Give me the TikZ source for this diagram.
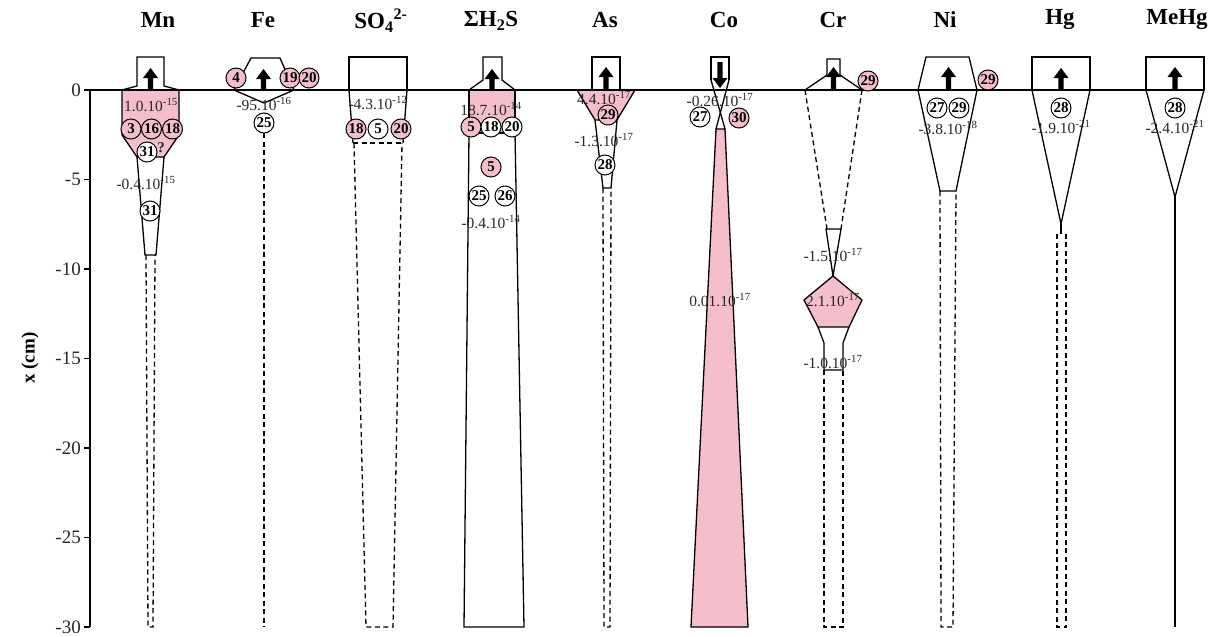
\documentclass[tikz,border=0pt]{standalone}
\usepackage{fontspec}
\setmainfont{Liberation Serif}
\definecolor{pk}{RGB}{245,190,203}
\definecolor{tx}{RGB}{40,40,40}
\newcommand\upa[2]{\fill (#1-2.6,90) -- (#1-2.6,#2+10) -- (#1-7.5,#2+10) -- (#1,#2) -- (#1+7.5,#2+10) -- (#1+2.6,#2+10) -- (#1+2.6,90) -- cycle;}
\tikzset{
  pc/.style={circle,draw,line width=1pt,fill=pk,inner sep=0pt,minimum size=20pt,font=\fontsize{15}{15}\selectfont\bfseries},
  wc/.style={pc,fill=white},
  val/.style={font=\fontsize{15.5}{15.5}\selectfont,text=tx,inner sep=0pt},
  hdr/.style={font=\fontsize{23}{23}\selectfont\bfseries,inner sep=0pt},
  tick/.style={font=\fontsize{19}{19}\selectfont,text=tx,inner sep=0pt,anchor=east},
  outl/.style={line width=1.3pt,line join=miter},
  dsh/.style={line width=1.3pt,dash pattern=on 5pt off 3.5pt},
}
\begin{document}
\begin{tikzpicture}[x=1pt,y=-1pt]
\useasboundingbox (0,0) rectangle (1224,637);
% axis
\draw[line width=1.4pt] (90,90) -- (90,627);
\foreach \v/\l in {0/0,5/-5,10/-10,15/-15,20/-20,25/-25,30/-30}{
  \draw[line width=1.3pt] (84,90+17.9*\v) -- (90,90+17.9*\v);
  \node[tick] at (81,90+17.9*\v) {\l};
}
\node[font=\fontsize{19}{19}\selectfont\bfseries,rotate=90] (ylab) at (30,358) {x (cm)};
% headers
\node[hdr] (hMn) at (158,20) {Mn};
\node[hdr] (hFe) at (263,20) {Fe};
\node[hdr] (hSO) at (381,21) {SO\textsubscript{4}\textsuperscript{2-}};
\node[hdr] (hHS) at (491,21) {ΣH\textsubscript{2}S};
\node[hdr] (hAs) at (605,20) {As};
\node[hdr] (hCo) at (724,20) {Co};
\node[hdr] (hCr) at (833,20) {Cr};
\node[hdr] (hNi) at (945,20) {Ni};
\node[hdr] (hHg) at (1060,20) {Hg};
\node[hdr] (hMeHg) at (1177,20) {MeHg};
% ---- Mn
\filldraw[outl,fill=pk] (122,90) -- (122,135) -- (137,157) -- (164,157) -- (179,135) -- (179,90);
\draw[outl] (122,90) -- (137,86) -- (137,57) -- (164,57) -- (164,86) -- (179,90);
\draw[outl] (137,157) -- (145,255) -- (156,255) -- (164,157);
\draw[dsh] (146,255) -- (148,627) -- (153,627) -- (155,255);
% ---- Fe
\draw[outl] (234,90) -- (251,58) -- (280,58) -- (294,90);
\draw[outl] (234,90) -- (264,103) -- (294,90);
\draw[dsh] (264,133) -- (264,627);
% ---- SO4
\draw[outl] (349,90) -- (349,57) -- (407,57) -- (407,90);
\draw[outl] (349,90) -- (353,143);
\draw[outl] (407,90) -- (403,143);
\draw[dsh] (353,143) -- (403,143);
\draw[dsh] (354,143) -- (366,627) -- (393,627) -- (402,143);
% ---- H2S
\filldraw[outl,fill=pk] (469,90) -- (469,133) -- (515,133) -- (515,90);
\draw[outl] (469,90) -- (483,80) -- (483,57) -- (502,57) -- (502,80) -- (515,90);
\draw[outl] (469,133) -- (464,627) -- (524,627) -- (515,133);
% ---- As
\filldraw[outl,fill=pk] (577,90) -- (595,120) -- (617,120) -- (635,90);
\draw[outl] (592,90) -- (592,57) -- (620,57) -- (620,90);
\draw[outl] (595,120) -- (603,188) -- (611,188) -- (617,120);
\draw[dsh] (603,188) -- (604,627) -- (610,627) -- (611,188);
% ---- Co
\filldraw[outl,fill=pk] (716,129) -- (691,627) -- (748,627) -- (725,129) -- cycle;
\draw[outl] (711,80) -- (711,57) -- (729,57) -- (729,80);
\draw[outl] (711,80) -- (725,129);
\draw[outl] (729,80) -- (716,129);
% ---- Cr
\draw[outl] (805,90) -- (827,75) -- (827,59) -- (840,59) -- (840,75) -- (862,90);
\draw[dsh] (805,90) -- (827,229);
\draw[dsh] (862,90) -- (841,229);
\draw[outl] (826,229) -- (841,229) -- (833,276) -- cycle;
\filldraw[outl,fill=pk] (833,276) -- (862,300) -- (849,327) -- (818,327) -- (804,300) -- cycle;
\draw[outl] (818,327) -- (824,343) -- (824,370) -- (843,370) -- (843,343) -- (849,327);
\draw[dsh] (824,370) -- (824,627) -- (843,627) -- (843,370);
% ---- Ni
\draw[outl] (918,90) -- (926,57) -- (969,57) -- (977,90);
\draw[outl] (918,90) -- (940,191) -- (956,191) -- (977,90);
\draw[dsh] (940,191) -- (941,627) -- (953,627) -- (956,191);
% ---- Hg
\draw[outl] (1032,90) -- (1032,57) -- (1090,57) -- (1090,90);
\draw[outl] (1032,90) -- (1061,224) -- (1090,90);
\draw[outl] (1061,224) -- (1061,234);
\draw[dsh] (1057,234) -- (1057,627) -- (1066,627) -- (1066,234);
% ---- MeHg
\draw[outl] (1146,90) -- (1146,57) -- (1204,57) -- (1204,90);
\draw[outl] (1146,90) -- (1175,197) -- (1204,90);
\draw[outl] (1175,197) -- (1175,627);
% surface
\draw[line width=1.6pt] (90,90) -- (1204,90);
% arrows
\upa{150.5}{68}
\upa{263.5}{69}
\upa{492}{69}
\upa{606}{67}
\upa{833.5}{67}
\upa{948.5}{67}
\upa{1061}{68}
\upa{1175}{67}
\fill (717.4,62) -- (717.4,78) -- (712.5,78) -- (720,88) -- (727.5,78) -- (722.6,78) -- (722.6,62) -- cycle;
% values
\node[val] (vMn1) at (151,105) {1.0.10\textsuperscript{-15}};
\node[val] (vMn2) at (146,183) {-0.4.10\textsuperscript{-15}};
\node[val] (vFe) at (264,104) {-95.10\textsuperscript{-16}};
\node[val] (vSO) at (378,103) {-4.3.10\textsuperscript{-12}};
\node[val] (vHS1) at (491,109) {18.7.10\textsuperscript{-14}};
\node[val] (vHS2) at (491,222) {-0.4.10\textsuperscript{-14}};
\node[val] (vAs1) at (604,98) {4.4.10\textsuperscript{-17}};
\node[val] (vAs2) at (604,140) {-1.3.10\textsuperscript{-17}};
\node[val] (vCo1) at (720,100) {-0.26.10\textsuperscript{-17}};
\node[val] (vCo2) at (720,300) {0.01.10\textsuperscript{-17}};
\node[val] (vCr1) at (833,255) {-1.5.10\textsuperscript{-17}};
\node[val] (vCr2) at (833,300) {2.1.10\textsuperscript{-17}};
\node[val] (vCr3) at (833,362) {-1.0.10\textsuperscript{-17}};
\node[val] (vNi) at (948,128) {-3.8.10\textsuperscript{-18}};
\node[val] (vHg) at (1061,127) {-1.9.10\textsuperscript{-21}};
\node[val] (vMeHg) at (1175,127) {-2.4.10\textsuperscript{-21}};
% circles
\node[pc] (mn3) at (131,129) {3};
\node[pc] (mn16) at (151.5,129) {16};
\node[pc] (mn18) at (172.5,129) {18};
\node[wc] (mn31a) at (147,152) {31};
\node[val,font=\fontsize{15}{15}\selectfont\bfseries] (mnq) at (161,148) {?};
\node[wc] (mn31b) at (150,211) {31};
\node[pc] (fe4) at (236,78) {4};
\node[pc] (fe19) at (290,78) {19};
\node[pc] (fe20) at (309,78) {20};
\node[wc] (fe25) at (264,123) {25};
\node[pc] (so18) at (356,129) {18};
\node[wc] (so5) at (378,129) {5};
\node[pc] (so20) at (401,129) {20};
\node[pc] (hs5a) at (471,127) {5};
\node[wc] (hs18) at (491,127) {18};
\node[wc] (hs20) at (512,127) {20};
\node[pc] (hs5b) at (491,167) {5};
\node[wc] (hs25) at (479,196) {25};
\node[wc] (hs26) at (505,196) {26};
\node[pc] (as29) at (608,115) {29};
\node[wc] (as28) at (605,165) {28};
\node[wc] (co27) at (700,117) {27};
\node[pc] (co30) at (739,118) {30};
\node[pc] (cr29) at (868,81) {29};
\node[wc] (ni27) at (937,108) {27};
\node[wc] (ni29) at (959,108) {29};
\node[pc] (ni29b) at (988,80) {29};
\node[wc] (hg28) at (1061,108) {28};
\node[wc] (mehg28) at (1175,108) {28};
\end{tikzpicture}
\end{document}
